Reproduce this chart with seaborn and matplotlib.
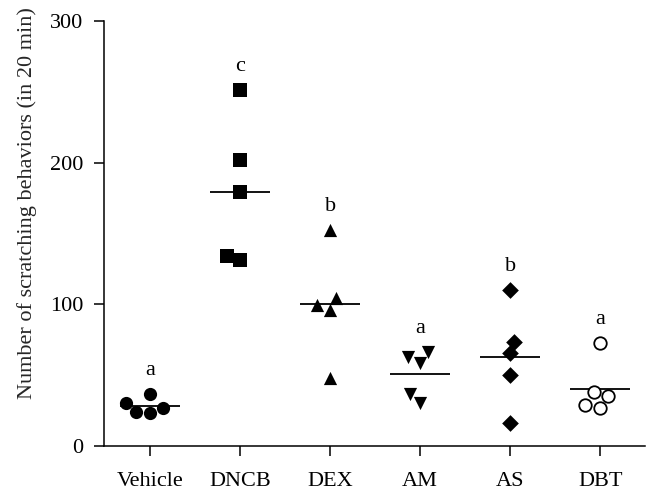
import numpy as np
import pandas as pd
import matplotlib
matplotlib.use("Agg")
import matplotlib.pyplot as plt
import seaborn as sns

groups = ["Vehicle", "DNCB", "DEX", "AM", "AS", "DBT"]
vehicle = [36.7, 26.8, 23.3, 30.3, 24.0]
dncb = [251.0, 202.0, 179.0, 131.0, 134.0]
dex = [152.5, 99.5, 96.0, 104.5, 48.0]
am = [62.8, 58.6, 66.3, 30.4, 36.7]
as_ = [110.0, 73.4, 65.6, 50.0, 16.2]
dbt = [72.7, 35.3, 38.0, 26.8, 29.0]
letters = ["a", "c", "b", "a", "b", "a"]
yticks = [0, 100, 200, 300]

values = [vehicle, dncb, dex, am, as_, dbt]
df = pd.DataFrame({
    "group": np.repeat(groups, [len(v) for v in values]),
    "value": np.concatenate(values),
})

sns.set_theme(style="ticks")
plt.rcParams["font.family"] = ["Liberation Serif", "DejaVu Serif"]

fig = plt.figure(figsize=(6.59, 4.97), dpi=100)
ax = fig.add_axes([0.158, 0.1026, 0.821, 0.8551])

markers = ["o", "s", "^", "v", "D", "o"]
for g, m in zip(groups, markers):
    sub = df[df["group"] == g]
    if g == "DBT":
        sns.swarmplot(data=sub, x="group", y="value", order=groups, marker=m,
                      color="white", edgecolor="black", linewidth=1.3,
                      size=9, ax=ax)
    else:
        sz = 8.5 if m == "D" else 9.5
        sns.swarmplot(data=sub, x="group", y="value", order=groups, marker=m,
                      color="black", size=sz, ax=ax, linewidth=0)

sns.pointplot(data=df, x="group", y="value", order=groups, estimator="mean",
              errorbar=None, linestyle="none", marker="_", markersize=43,
              markeredgewidth=1.3, color="black", ax=ax)

maxes = df.groupby("group")["value"].max()
for i, (g, l) in enumerate(zip(groups, letters)):
    ax.text(i, maxes[g] + 10, l, ha="center", va="bottom", fontsize=16,
            color="black")

ax.set_ylim(0, 300)
ax.set_xlim(-0.51, 5.5)
ax.set_yticks(yticks)
ax.set_xlabel("")
ax.set_ylabel("Number of scratching behaviors (in 20 min)", fontsize=16,
              va="center")
ax.yaxis.set_label_coords(-0.142, 0.572)
ax.tick_params(axis="both", direction="out", length=7, width=1.1,
               labelsize=16, colors="black")
ax.tick_params(axis="x", pad=12)
ax.tick_params(axis="y", pad=8)
for s in ["left", "bottom"]:
    ax.spines[s].set_linewidth(1.1)
    ax.spines[s].set_color("black")
sns.despine(ax=ax)

fig.savefig("out.png", dpi=100)
